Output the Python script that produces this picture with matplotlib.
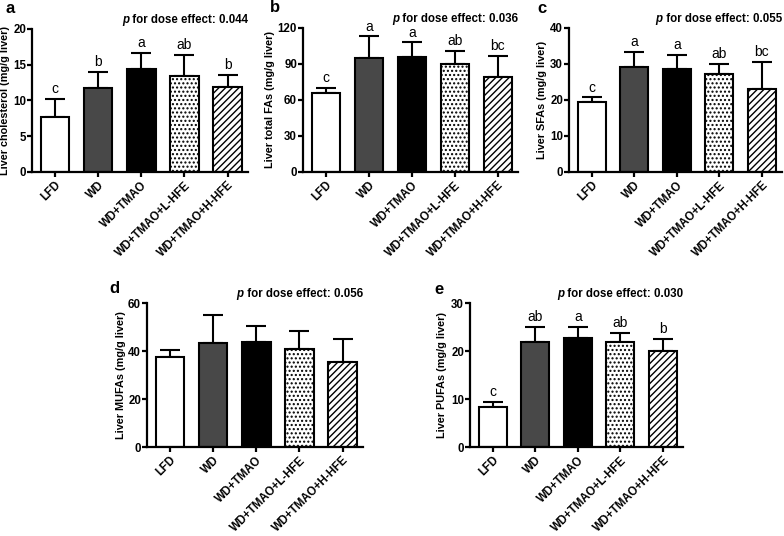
import matplotlib.pyplot as plt
import numpy as np

plt.rcParams["font.family"] = ["Liberation Sans", "DejaVu Sans"]
plt.rcParams["hatch.linewidth"] = 1.0

groups = ["LFD", "WD", "WD+TMAO", "WD+TMAO+L-HFE", "WD+TMAO+H-HFE"]

chol_mean = [7.7, 11.7, 14.4, 13.4, 11.9]
chol_top = [10.2, 14.0, 16.7, 16.4, 13.6]
chol_sig = ["c", "b", "a", "ab", "b"]

tfa_mean = [65.5, 95.0, 95.5, 90.0, 78.8]
tfa_top = [70.0, 113.0, 108.0, 100.7, 96.8]
tfa_sig = ["c", "a", "a", "ab", "bc"]

sfa_mean = [19.5, 29.3, 28.5, 27.2, 23.0]
sfa_top = [20.7, 33.4, 32.6, 30.1, 30.5]
sfa_sig = ["c", "a", "a", "ab", "bc"]

mufa_mean = [37.3, 43.5, 43.7, 41.0, 35.5]
mufa_top = [40.4, 55.0, 50.4, 48.2, 44.9]
mufa_sig = None

pufa_mean = [8.3, 21.8, 22.7, 21.8, 19.9]
pufa_top = [9.3, 25.1, 25.0, 23.7, 22.6]
pufa_sig = ["c", "ab", "a", "ab", "b"]

W, H = 784, 536
FS = 8.3
face = ["white", "#484848", "black", "white", "white"]
hatches = [None, None, None, "....", "/////"]


def px_axes(fig, left, right, top, bottom):
    return fig.add_axes([left / W, 1 - bottom / H, (right - left) / W, (bottom - top) / H])


def panel(ax, letter, letter_xy, label_x, mean, top, sig, ymax, step, ylabel, pval):
    x = np.arange(len(groups))
    mean = np.asarray(mean)
    top = np.asarray(top)
    err = np.vstack([np.zeros_like(mean), top - mean])
    ax.errorbar(x, mean, yerr=err, fmt="none", ecolor="black", elinewidth=1.5,
                capsize=7, capthick=1.5, zorder=1)
    ax.bar(x, mean, width=0.66, color=face, edgecolor="black", linewidth=1.5,
           hatch=hatches, zorder=2)
    if sig is not None:
        for xi, ti, s in zip(x, top, sig):
            ax.text(xi, ti + ymax * 0.02, s, ha="center", va="bottom", fontsize=10)
    ax.set_xlim(-0.53, 4.47)
    ax.set_ylim(0, ymax)
    ax.set_yticks(np.arange(0, ymax + 0.1, step))
    ax.set_xticks(x)
    ax.set_xticklabels(groups, rotation=45, ha="right", rotation_mode="anchor",
                       fontsize=FS, fontweight="bold")
    for lbl in ax.get_yticklabels():
        lbl.set_fontweight("bold")
        lbl.set_fontsize(FS)
    for side in ("top", "right"):
        ax.spines[side].set_visible(False)
    for side in ("left", "bottom"):
        ax.spines[side].set_linewidth(1.6)
    ax.tick_params(width=1.6, length=3.8)
    ax.tick_params(axis="y", pad=0.5)
    ax.tick_params(axis="x", pad=1.5)
    ax.set_ylabel(ylabel, fontsize=7.8, fontweight="bold")
    ax.yaxis.set_label_coords(label_x, 0.5)
    t = ax.text(1.0, 1.02, " for dose effect: " + pval, transform=ax.transAxes,
                ha="right", va="bottom", fontsize=FS, fontweight="bold")
    ax.annotate("p", xy=(0, 0), xycoords=t, ha="right", va="bottom",
                fontsize=FS, fontweight="bold", style="italic")
    ax.figure.text(letter_xy[0] / W, 1 - letter_xy[1] / H, letter, ha="left", va="top",
                   fontsize=12, fontweight="bold")


fig = plt.figure(figsize=(W / 100, H / 100), dpi=100)

ax_a = px_axes(fig, 32, 248, 29, 172)
ax_b = px_axes(fig, 303, 518, 28, 172)
ax_c = px_axes(fig, 569, 782, 28, 172)
ax_d = px_axes(fig, 147, 363, 303, 447)
ax_e = px_axes(fig, 470, 683, 303, 447)

panel(ax_a, "a", (5, 1), -0.10, chol_mean, chol_top, chol_sig, 20, 5,
      "Liver cholesterol (mg/g liver)", "0.044")
panel(ax_b, "b", (270, 0), -0.13, tfa_mean, tfa_top, tfa_sig, 120, 30,
      "Liver total FAs (mg/g liver)", "0.036")
panel(ax_c, "c", (537, 1), -0.104, sfa_mean, sfa_top, sfa_sig, 40, 10,
      "Liver SFAs (mg/g liver)", "0.055")
panel(ax_d, "d", (109, 281), -0.097, mufa_mean, mufa_top, mufa_sig, 60, 20,
      "Liver MUFAs (mg/g liver)", "0.056")
panel(ax_e, "e", (434, 282), -0.108, pufa_mean, pufa_top, pufa_sig, 30, 10,
      "Liver PUFAs (mg/g liver)", "0.030")

fig.savefig("out.png", dpi=100)
